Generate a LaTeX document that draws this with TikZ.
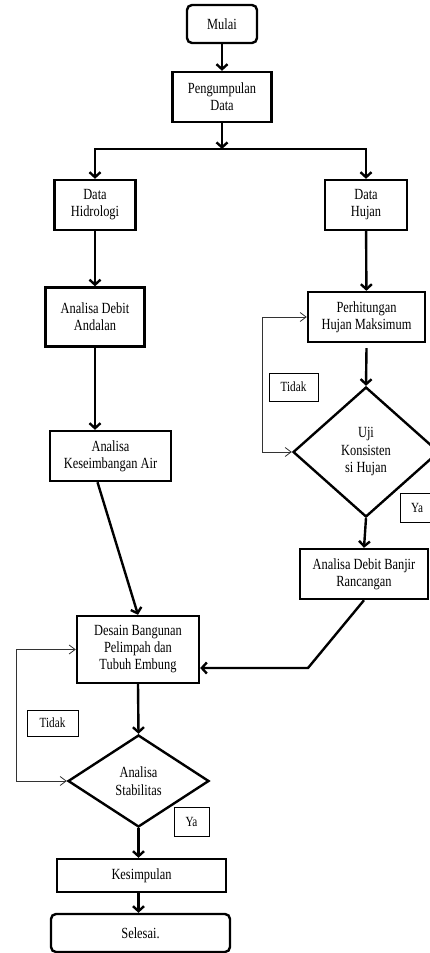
\documentclass[tikz,border=0pt]{standalone}
\usepackage{fontspec}
\setmainfont[FakeStretch=0.8]{Liberation Serif}
\usetikzlibrary{shapes.geometric,arrows.meta}
\begin{document}
\begin{tikzpicture}[x=1pt,y=-1pt,
  box/.style={draw,line width=2.4pt,align=center,inner sep=0pt,
    font=\fontsize{15.5}{17}\selectfont},
  rbox/.style={box,rounded corners=5pt},
  dia/.style={draw,diamond,line width=2.4pt,align=center,inner sep=0pt,
    font=\fontsize{15.5}{17.5}\selectfont},
  lbl/.style={draw,line width=0.8pt,inner sep=0pt,
    font=\fontsize{14}{15}\selectfont},
  flow/.style={line width=2.4pt,-{Straight Barb[length=5pt,width=11pt]}},
  back/.style={line width=0.8pt,black!80,-{Straight Barb[length=6pt,width=9pt]}}
]
\useasboundingbox (0,0) rectangle (429,953);

\node[rbox,minimum width=70pt,minimum height=38pt] (mulai) at (222,24) {Mulai};
\node[box,minimum width=99pt,minimum height=50pt] (peng) at (222,97) {Pengumpulan\\Data};
\node[box,minimum width=81pt,minimum height=50pt] (hid) at (95,205) {Data\\Hidrologi};
\node[box,minimum width=82pt,minimum height=50pt] (huj) at (366,205) {Data\\Hujan};
\node[box,minimum width=99pt,minimum height=59pt] (deb) at (95,317) {Analisa Debit\\Andalan};
\node[box,minimum width=121pt,minimum height=50pt] (kes) at (110.5,456) {Analisa\\Keseimbangan Air};
\node[box,minimum width=117pt,minimum height=50pt] (perh) at (366.5,317) {Perhitungan\\Hujan Maksimum};
\node[dia,minimum width=146pt,minimum height=130pt] (uji) at (366,452) {Uji\\Konsisten\\si Hujan};
\node[box,minimum width=128pt,minimum height=50pt] (ban) at (364,574) {Analisa Debit Banjir\\Rancangan};
\node[box,minimum width=122pt,minimum height=67pt] (des) at (138,649.5) {Desain Bangunan\\Pelimpah dan\\Tubuh Embung};
\node[dia,minimum width=141pt,minimum height=92pt] (stab) at (138.5,781) {Analisa\\Stabilitas};
\node[box,minimum width=169pt,minimum height=33pt] (kesim) at (141.5,875.5) {Kesimpulan};
\node[rbox,minimum width=179pt,minimum height=38pt] (sel) at (140.5,933) {Selesai.};

\node[lbl,minimum width=49pt,minimum height=28pt] (tidak1) at (293.5,387) {Tidak};
\node[lbl,minimum width=34pt,minimum height=29pt] (ya1) at (417,507.5) {Ya};
\node[lbl,minimum width=51pt,minimum height=26pt] (tidak2) at (52.5,723) {Tidak};
\node[lbl,minimum width=35pt,minimum height=29pt] (ya2) at (191.5,821.5) {Ya};

\coordinate (j) at (222,149);
\coordinate (l1) at (262,452);
\coordinate (l2) at (16,781);
\coordinate (b1) at (308,668);

\draw[flow] (mulai) -- (peng);
\draw[flow] (peng) -- (j);
\draw[flow] (j) -| (hid.north);
\draw[flow] (j) -| (huj.north);
\draw[flow] (hid) -- (deb);
\draw[flow] (deb.south) -- (deb.south |- kes.north);
\draw[flow] (huj) -- (perh);
\draw[flow] ([yshift=-5pt]perh.south) -- (uji.north);
\draw[flow] (uji.south) -- (ban.north);
\draw[flow] ([xshift=-13pt]kes.south) -- (des.north);
\draw[flow] (ban.south) -- (b1) -- (des.east |- b1);
\draw[flow] (des.south) -- (stab.north);
\draw[flow] (stab.south) -- (stab.south |- kesim.north);
\draw[flow] (stab.south |- kesim.south) -- (stab.south |- sel.north);

\draw[back] (l1) -- (uji.west);
\draw[back] (l1) |- (perh.west);
\draw[back] (l2) -- (stab.west);
\draw[back] (l2) |- (des.west);
\end{tikzpicture}
\end{document}
